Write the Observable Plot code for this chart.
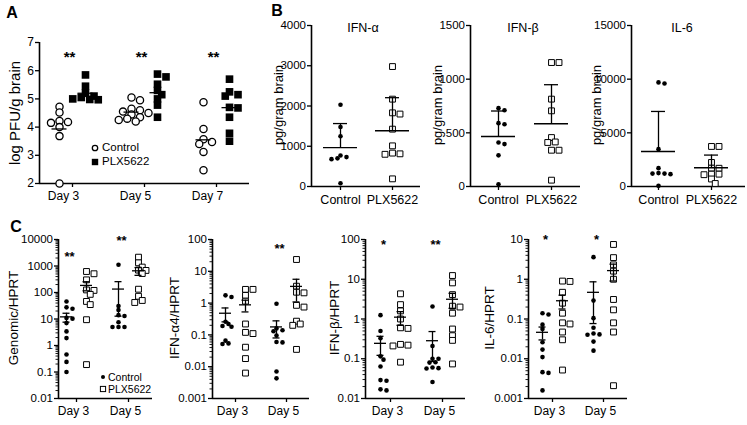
<!DOCTYPE html>
<html><head><meta charset="utf-8">
<script src="https://cdn.jsdelivr.net/npm/d3@7"></script>
<script src="https://cdn.jsdelivr.net/npm/@observablehq/plot@0.6"></script>
<style>
body{margin:0;background:#fff;}
#fig{position:relative;width:747px;height:425px;font-family:"Liberation Sans",Arial,Helvetica,sans-serif;color:#000;overflow:hidden;background:#fff}
#fig > svg{position:absolute;left:0;top:0;}
.lbl{position:absolute;white-space:nowrap;line-height:1;}
</style></head><body><div id="fig"></div>
<script>
// ---------------- DATA ----------------
// Panel A: log PFU/g brain
const A_days = ["Day 3", "Day 5", "Day 7"];
const A_control = [
  [4.72, 4.52, 4.22, 4.18, 4.15, 4.0, 3.68, 2.0],
  [5.05, 4.95, 4.65, 4.6, 4.55, 4.5, 4.45, 4.35, 4.3, 4.25, 4.2],
  [4.88, 3.93, 3.57, 3.47, 3.4, 3.12, 2.47]
];
const A_plx = [
  [5.85, 5.45, 5.2, 5.1, 5.05, 5.0, 4.98, 4.97],
  [5.88, 5.78, 5.52, 5.3, 5.15, 5.0, 4.78, 4.35],
  [5.7, 5.25, 5.15, 5.1, 4.7, 4.68, 4.35, 3.78, 3.5]
];
const A_yTicks = [2, 3, 4, 5, 6, 7];
const A_stars = ["**", "**", "**"];
const A_starY = [6.6, 6.6, 6.6];

// Panel B: pg/gram brain
const B_groups = ["Control", "PLX5622"];
const B_titles = ["IFN-α", "IFN-β", "IL-6"];
const B_ifna_control = [2030, 1480, 1250, 770, 730, 700, 680, 80];
const B_ifna_plx = [2980, 2170, 1830, 1800, 1425, 1010, 830, 812, 800, 190];
const B_ifnb_control = [730, 710, 590, 580, 410, 395, 290, 20];
const B_ifnb_plx = [1155, 1155, 814, 705, 456, 415, 410, 338, 338, 59];
const B_il6_control = [9700, 9600, 3480, 1710, 1250, 1200, 1200, 1150, 60];
const B_il6_plx = [3730, 3730, 2240, 1710, 1700, 1150, 1150, 1100, 700, 280];
const B_ifna_ticks = [0, 1000, 2000, 3000, 4000];
const B_ifnb_ticks = [0, 500, 1000, 1500];
const B_il6_ticks = [0, 5000, 10000, 15000];

// Panel C: relative expression (log scale), [Day 3, Day 5]
const C_days = ["Day 3", "Day 5"];
const C_labels = ["Genomic/HPRT", "IFN-α4/HPRT", "IFN-β/HPRT", "IL-6/HPRT"];
const C_genomic_control = [
  [46, 27.5, 24.5, 11, 10.3, 7.0, 3.4, 1.9, 0.46, 0.24, 0.10],
  [1110, 31, 22, 14, 13, 7.5, 5, 5, 5]
];
const C_genomic_plx = [
  [620, 510, 300, 125, 120, 85, 46, 35, 9.4, 0.19],
  [2150, 1320, 910, 700, 680, 520, 133, 72, 50, 42]
];
const C_ifna4_control = [
  [1.75, 1.55, 0.26, 0.22, 0.19, 0.18, 0.066, 0.054, 0.052],
  [0.95, 0.16, 0.14, 0.13, 0.095, 0.06, 0.058, 0.0071, 0.0043]
];
const C_ifna4_plx = [
  [2.7, 2.7, 1.75, 1.15, 0.22, 0.12, 0.11, 0.041, 0.018, 0.0063],
  [23.5, 3.4, 2.2, 2.1, 0.85, 0.75, 0.27, 0.22, 0.2, 0.035]
];
const C_ifnb_control = [
  [1.25, 0.5, 0.33, 0.115, 0.095, 0.064, 0.029, 0.028, 0.017, 0.016],
  [2.07, 0.21, 0.1, 0.1, 0.082, 0.08, 0.06, 0.058, 0.057, 0.026]
];
const C_ifnb_plx = [
  [4.3, 2.3, 1.6, 1.0, 0.6, 0.58, 0.23, 0.22, 0.21, 0.082],
  [12.4, 8.1, 4.1, 2.1, 2.0, 1.4, 0.56, 0.38, 0.29, 0.074]
];
const C_il6_control = [
  [0.14, 0.13, 0.072, 0.056, 0.026, 0.017, 0.011, 0.0046, 0.0044, 0.0016],
  [3.6, 0.29, 0.105, 0.06, 0.043, 0.041, 0.04, 0.027, 0.016]
];
const C_il6_plx = [
  [0.9, 0.88, 0.47, 0.25, 0.14, 0.08, 0.075, 0.047, 0.03, 0.0052],
  [7.5, 3.5, 2.3, 1.6, 1.0, 0.31, 0.17, 0.08, 0.047, 0.0021]
];
const C_genomic_ticks = [0.01, 0.1, 1, 10, 100, 1000, 10000];
const C_ifna4_ticks = [0.001, 0.01, 0.1, 1, 10, 100];
const C_ifnb_ticks = [0.01, 0.1, 1, 10, 100];
const C_il6_ticks = [0.001, 0.01, 0.1, 1, 10];
const C_genomic_stars = ["**", "**"], C_genomic_starY = [2950, 11900];
const C_ifna4_stars = ["", "**"], C_ifna4_starY = [62, 62];
const C_ifnb_stars = ["*", "**"], C_ifnb_starY = [85, 89];
const C_il6_stars = ["*", "*"], C_il6_starY = [11.4, 11.9];

// ---------------- DRAWING ----------------
const FONT = '"Liberation Sans", Arial, Helvetica, sans-serif';
const fig = document.getElementById("fig");
const W = 747, H = 425;

const KIND = {
  openCircle: {symbol: "circle", r: 3.6, fill: "white", stroke: "black", strokeWidth: 1.3},
  filledSquare: {symbol: "square", r: 4.3, fill: "black", stroke: "none"},
  dot: {symbol: "circle", r: 2.3, fill: "black", stroke: "none"},
  openSquare: {symbol: "square", r: 3.3, fill: "white", stroke: "black", strokeWidth: 1}
};

// simple beeswarm: pixel offsets letting marks overlap a little
function swarm(values, yPx, diam) {
  const order = values.map((v, i) => ({i, y: yPx(v)})).sort((a, b) => a.y - b.y);
  const placed = [];
  const off = new Array(values.length).fill(0);
  const minDist = diam * 0.62;
  for (const p of order) {
    for (let k = 0; k < 60; k++) {
      const o = (k === 0 ? 0 : (k % 2 ? 1 : -1) * Math.ceil(k / 2)) * diam / 2;
      if (placed.every(q => Math.hypot(q.x - o, q.y - p.y) >= minDist)) {
        off[p.i] = o; placed.push({x: o, y: p.y}); break;
      }
    }
  }
  return off;
}

function minorTicks(domain) {
  const out = [];
  const k0 = Math.round(Math.log10(domain[0])), k1 = Math.round(Math.log10(domain[1]));
  for (let k = k0; k < k1; k++) for (let m = 2; m <= 9; m++) out.push(m * Math.pow(10, k));
  return out;
}

function buildPanel(cfg) {
  const {left, right, top, bottom} = cfg;
  const ppu = (cfg.xRange[1] - cfg.xRange[0]) / (cfg.xDomain[1] - cfg.xDomain[0]);
  const yPx = (cfg.yType === "log" ? d3.scaleLog() : d3.scaleLinear()).domain(cfg.yDomain).range([bottom, top]);
  const xAt = px => cfg.xDomain[0] + (px - cfg.xRange[0]) / ppu;
  const points = {openCircle: [], filledSquare: [], dot: [], openSquare: []};
  const means = [], errs = [], caps = [];
  for (const g of cfg.groups) {
    const offs = swarm(g.values, yPx, g.step);
    g.values.forEach((v, i) => points[g.kind].push({x: g.x + offs[i] / ppu, y: v}));
    const m = d3.mean(g.values);
    means.push({x1: g.x - cfg.meanHalf / ppu, x2: g.x + cfg.meanHalf / ppu, y: m});
    if (cfg.err === "sdUp") {
      const e = d3.deviation(g.values);
      errs.push({x: g.x, y1: m, y2: m + e});
      caps.push({x1: g.x - cfg.capHalf / ppu, x2: g.x + cfg.capHalf / ppu, y: m + e});
    } else if (cfg.err === "sem") {
      const e = d3.deviation(g.values) / Math.sqrt(g.values.length);
      const lo = Math.max(m - e, cfg.yDomain[0]);
      errs.push({x: g.x, y1: lo, y2: m + e});
      caps.push({x1: g.x - cfg.capHalf / ppu, x2: g.x + cfg.capHalf / ppu, y: m + e});
      caps.push({x1: g.x - cfg.capHalf / ppu, x2: g.x + cfg.capHalf / ppu, y: lo});
    }
  }
  const marks = [];
  marks.push(Plot.ruleX([xAt(left)], {stroke: "black", strokeWidth: 1.6}));
  marks.push(Plot.ruleY([cfg.yDomain[0]], {stroke: "black", strokeWidth: 1.6}));
  if (cfg.yType === "log") {
    marks.push(Plot.axisY(minorTicks(cfg.yDomain), {tickSize: 2.5, tickFormat: () => "", strokeWidth: 0.9}));
  }
  marks.push(Plot.axisY(cfg.yTicks, {tickSize: 4, tickPadding: 1.5, tickFormat: d => String(d), fontSize: cfg.yTickSize || 11.5, strokeWidth: 1.3}));
  marks.push(Plot.axisX(cfg.xTicks, {tickSize: 4, tickFormat: () => "", strokeWidth: 1.3}));
  marks.push(Plot.text(cfg.xTicks, {x: d => d, text: (d, i) => cfg.xLabels[i], frameAnchor: "bottom", dy: 13, dx: cfg.xLabelDx || 0, fontSize: cfg.xLabelSize, lineAnchor: "middle"}));
  for (const k of Object.keys(points)) {
    if (points[k].length) marks.push(Plot.dot(points[k], {x: "x", y: "y", ...KIND[k]}));
  }
  marks.push(Plot.ruleY(means, {x1: "x1", x2: "x2", y: "y", stroke: "black", strokeWidth: 1.3}));
  marks.push(Plot.ruleX(errs, {x: "x", y1: "y1", y2: "y2", stroke: "black", strokeWidth: 1.3}));
  marks.push(Plot.ruleY(caps, {x1: "x1", x2: "x2", y: "y", stroke: "black", strokeWidth: 1.3}));
  if (cfg.stars) {
    marks.push(Plot.text(cfg.stars.map((s, i) => ({x: cfg.xTicks[i], y: cfg.starY[i], s})),
      {x: "x", y: "y", text: "s", fontSize: cfg.starSize || 13, fontWeight: "bold", dx: cfg.starDx || 0, dy: 3}));
  }
  const svg = Plot.plot({
    width: W, height: H,
    marginLeft: left, marginRight: W - right, marginTop: top, marginBottom: H - bottom,
    x: {domain: cfg.xDomain, range: cfg.xRange, axis: null},
    y: {type: cfg.yType, domain: cfg.yDomain, axis: null},
    style: {background: "transparent", fontFamily: FONT, fontSize: "11px", color: "black", overflow: "visible"},
    marks
  });
  fig.appendChild(svg);
}

function label(text, x, y, opts = {}) {
  const {size = 11, rotate = false, weight = "normal", anchor = "middle"} = opts;
  const d = document.createElement("div");
  d.className = "lbl";
  d.textContent = text;
  d.style.left = x + "px";
  d.style.top = y + "px";
  d.style.fontSize = size + "px";
  d.style.fontWeight = weight;
  d.style.transform = rotate ? "translate(-50%,-50%) rotate(-90deg)" :
    (anchor === "start" ? "translate(0,-50%)" : "translate(-50%,-50%)");
  fig.appendChild(d);
}

function legend(x, y, items, size) {
  items.forEach((it, i) => {
    const k = KIND[it.kind];
    const s = document.createElementNS("http://www.w3.org/2000/svg", "svg");
    s.setAttribute("width", 12); s.setAttribute("height", 12);
    s.style.position = "absolute"; s.style.left = (x - 6) + "px"; s.style.top = (y + i * it.gap - 6) + "px";
    let shape;
    if (k.symbol === "circle") {
      shape = document.createElementNS("http://www.w3.org/2000/svg", "circle");
      shape.setAttribute("cx", 6); shape.setAttribute("cy", 6); shape.setAttribute("r", it.r);
    } else {
      shape = document.createElementNS("http://www.w3.org/2000/svg", "rect");
      shape.setAttribute("x", 6 - it.r); shape.setAttribute("y", 6 - it.r);
      shape.setAttribute("width", 2 * it.r); shape.setAttribute("height", 2 * it.r);
    }
    shape.setAttribute("fill", k.fill); shape.setAttribute("stroke", k.stroke);
    shape.setAttribute("stroke-width", k.strokeWidth || 0);
    s.appendChild(shape);
    fig.appendChild(s);
    label(it.text, x + it.tx, y + i * it.gap, {size, anchor: "start"});
  });
}

// ---- Panel A ----
buildPanel({
  left: 39, right: 249, top: 42, bottom: 183,
  xDomain: [0, 2], xRange: [72, 216], xTicks: [0, 1, 2], xLabels: A_days, xLabelSize: 12, xLabelDx: -9,
  yType: "linear", yDomain: [2, 7], yTicks: A_yTicks, yTickSize: 12,
  groups: A_days.flatMap((d, i) => [
    {x: i - 13 / 72, values: A_control[i], kind: "openCircle", step: 8.5},
    {x: i + 13 / 72, values: A_plx[i], kind: "filledSquare", step: 8.5}
  ]),
  meanHalf: 7.5, err: null,
  stars: A_stars, starY: A_starY, starSize: 15, starDx: -3
});
label("A", 12, 13, {size: 16, weight: "bold"});
label("log PFU/g brain", 14, 113, {size: 15, rotate: true});
legend(95, 148, [
  {kind: "openCircle", text: "Control", gap: 14, r: 2.7, tx: 7},
  {kind: "filledSquare", text: "PLX5622", gap: 14, r: 3.2, tx: 7}
], 11.5);

// ---- Panel B ----
const B_panels = [
  {left: 311, right: 420, xRange: [340, 392], yDomain: [0, 4000], ticks: B_ifna_ticks, c: B_ifna_control, p: B_ifna_plx, title: 363, ylab: 278},
  {left: 470, right: 580, xRange: [498, 551], yDomain: [0, 1500], ticks: B_ifnb_ticks, c: B_ifnb_control, p: B_ifnb_plx, title: 523, ylab: 437},
  {left: 631, right: 745, xRange: [658, 711], yDomain: [0, 15000], ticks: B_il6_ticks, c: B_il6_control, p: B_il6_plx, title: 682, ylab: 596}
];
B_panels.forEach((b, i) => {
  buildPanel({
    left: b.left, right: b.right, top: 25, bottom: 186,
    xDomain: [0, 1], xRange: b.xRange, xTicks: [0, 1], xLabels: B_groups, xLabelSize: 12.5,
    yType: "linear", yDomain: b.yDomain, yTicks: b.ticks,
    groups: [
      {x: 0, values: b.c, kind: "dot", step: 6},
      {x: 1, values: b.p, kind: "openSquare", step: 7.5}
    ],
    meanHalf: 17, capHalf: 7, err: "sdUp"
  });
  label(B_titles[i], b.title, 28, {size: 12.5});
  label("pg/gram brain", b.ylab, 105, {size: 13, rotate: true});
});
label("B", 277, 11, {size: 16, weight: "bold"});

// ---- Panel C ----
const C_panels = [
  {left: 58, right: 152, xRange: [76, 128], yDomain: [0.01, 10000], ticks: C_genomic_ticks, c: C_genomic_control, p: C_genomic_plx, stars: C_genomic_stars, starY: C_genomic_starY, ylab: 14},
  {left: 212, right: 309, xRange: [235, 286], yDomain: [0.001, 100], ticks: C_ifna4_ticks, c: C_ifna4_control, p: C_ifna4_plx, stars: C_ifna4_stars, starY: C_ifna4_starY, ylab: 175},
  {left: 365, right: 465, xRange: [390, 442], yDomain: [0.01, 100], ticks: C_ifnb_ticks, c: C_ifnb_control, p: C_ifnb_plx, stars: C_ifnb_stars, starY: C_ifnb_starY, ylab: 335},
  {left: 528, right: 627, xRange: [552, 603], yDomain: [0.001, 10], ticks: C_il6_ticks, c: C_il6_control, p: C_il6_plx, stars: C_il6_stars, starY: C_il6_starY, ylab: 490}
];
C_panels.forEach((cp, i) => {
  const ppu = cp.xRange[1] - cp.xRange[0];
  buildPanel({
    left: cp.left, right: cp.right, top: 239, bottom: 398,
    xDomain: [0, 1], xRange: cp.xRange, xTicks: [0, 1], xLabels: C_days, xLabelSize: 12, xLabelDx: -3,
    yType: "log", yDomain: cp.yDomain, yTicks: cp.ticks,
    groups: C_days.flatMap((d, j) => [
      {x: j - 10 / ppu, values: cp.c[j], kind: "dot", step: 6},
      {x: j + 10 / ppu, values: cp.p[j], kind: "openSquare", step: 7.5}
    ]),
    meanHalf: 6, capHalf: 3.5, err: "sem",
    stars: cp.stars, starY: cp.starY, starSize: 13, starDx: -7
  });
  label(C_labels[i], cp.ylab, 318, {size: 13.5, rotate: true});
});
label("C", 16, 227, {size: 16, weight: "bold"});
legend(103, 377, [
  {kind: "dot", text: "Control", gap: 12, r: 2, tx: 5},
  {kind: "openSquare", text: "PLX5622", gap: 12, r: 2.6, tx: 5}
], 10.5);
</script></body></html>
